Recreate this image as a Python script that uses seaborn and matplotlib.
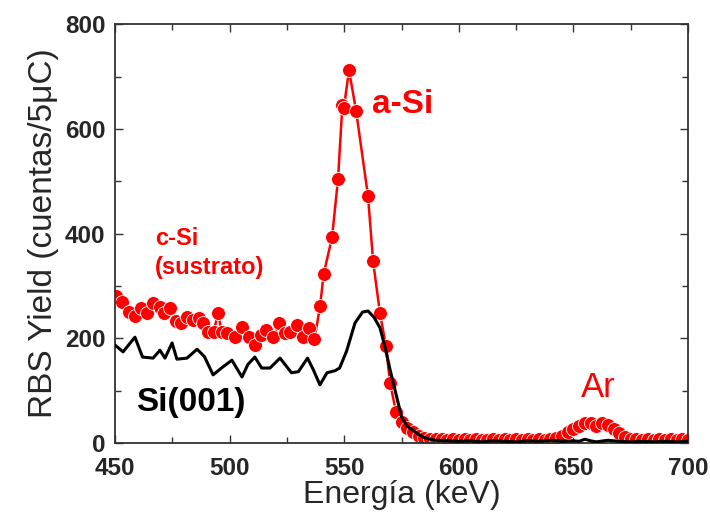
import matplotlib
matplotlib.use("Agg")
import matplotlib.pyplot as plt
import seaborn as sns
import pandas as pd
from matplotlib.ticker import MultipleLocator

sns.set_style("ticks")
plt.rcParams['font.family'] = ['Liberation Sans', 'DejaVu Sans']

# a-Si sample (red markers)
red_energy = [450.5, 453.0, 456.0, 458.5, 461.5, 464.0, 466.5, 469.5, 471.5, 474.0,
              476.5, 479.0, 481.5, 484.0, 486.5, 488.5, 490.5, 493.0, 495.0, 496.5,
              499.0, 502.5, 505.5, 508.5, 511.0, 513.5, 516.0, 519.0, 521.5, 524.0,
              526.5, 529.5, 532.0, 534.5, 537.0, 539.5, 541.0, 544.7, 547.3, 549.2,
              549.8, 552.1, 555.2, 560.4, 562.6, 565.6, 568.2, 570.0, 572.6, 575.0,
              577.5, 580.0, 582.5, 585.0, 587.5, 590.0, 592.5, 595.0, 597.5, 600.0,
              602.5, 605.0, 607.5, 610.0, 612.5, 615.0, 617.5, 620.0, 622.5, 625.0,
              627.5, 630.0, 632.5, 635.0, 637.5, 640.0, 642.5, 645.0, 647.5, 650.0,
              652.5, 655.0, 657.5, 660.0, 662.5, 665.0, 667.5, 670.0, 672.5, 675.0,
              677.5, 680.0, 682.5, 685.0, 687.5, 690.0, 692.5, 695.0, 697.5, 700.0]
red_yield = [280, 270, 250, 242, 258, 248, 268, 260, 248, 258,
             232, 229, 241, 235, 239, 230, 212, 212, 248, 212,
             210, 202, 221, 202, 188, 206, 216, 202, 229, 210,
             212, 225, 202, 219, 198, 262, 322, 393, 504, 645,
             639, 712, 634, 471, 347, 248, 185, 115, 59, 40,
             28, 20, 14, 10, 8, 7, 7, 6, 7, 6,
             7, 6, 7, 6, 6, 7, 6, 7, 6, 7,
             6, 7, 6, 7, 6, 8, 10, 14, 20, 26,
             32, 38, 38, 33, 38, 34, 26, 18, 12, 8,
             7, 6, 7, 6, 7, 6, 7, 6, 7, 6]

# Si(001) reference (black line)
black_energy = [450.0, 453.5, 458.7, 462.0, 466.6, 469.6, 471.8, 474.9, 477.0, 481.4,
                485.8, 489.0, 492.8, 497.0, 501.0, 505.4, 508.0, 511.0, 514.0, 517.6,
                522.0, 527.0, 530.0, 534.0, 536.5, 539.4, 542.5, 546.0, 548.0, 551.0,
                554.7, 558.0, 560.4, 563.0, 565.6, 568.0, 570.0, 572.5, 575.0, 577.5,
                580.0, 582.5, 585.0, 587.5, 590.0, 595.0, 600.0, 605.0, 610.0, 615.0,
                620.0, 625.0, 630.0, 635.0, 640.0, 645.0, 650.0, 652.5, 655.0, 657.5,
                660.0, 665.0, 670.0, 675.0, 680.0, 685.0, 690.0, 695.0, 700.0]
black_yield = [187, 174, 202, 164, 162, 177, 162, 191, 160, 162,
               179, 165, 130, 145, 158, 126, 150, 164, 143, 143,
               162, 134, 136, 162, 140, 111, 134, 138, 143, 175,
               229, 250, 252, 240, 220, 180, 140, 95, 50, 32,
               24, 16, 10, 7, 5, 4, 3, 4, 2, 4,
               3, 2, 4, 3, 5, 3, 4, 3, 7, 4,
               2, 5, 3, 2, 3, 2, 3, 2, 3]

x_ticks = [450, 500, 550, 600, 650, 700]
y_ticks = [0, 200, 400, 600, 800]

red_df = pd.DataFrame({"Energia": red_energy, "Yield": red_yield})
black_df = pd.DataFrame({"Energia": black_energy, "Yield": black_yield})

fig = plt.figure(figsize=(7.1, 5.15), dpi=100)
ax = fig.add_axes([0.162, 0.140, 0.807, 0.813])

sns.lineplot(data=red_df, x="Energia", y="Yield", ax=ax, color="#ff0000",
             linewidth=1.8, marker="o", markersize=10, markeredgecolor="white",
             markeredgewidth=0.6, estimator=None, sort=False, zorder=2)
sns.lineplot(data=black_df, x="Energia", y="Yield", ax=ax, color="black",
             linewidth=2.2, estimator=None, sort=False, zorder=3)

ax.set_xlim(450, 700)
ax.set_ylim(0, 800)
ax.set_xticks(x_ticks)
ax.set_yticks(y_ticks)
ax.xaxis.set_minor_locator(MultipleLocator(25))
ax.yaxis.set_minor_locator(MultipleLocator(100))
ax.tick_params(which="both", direction="in", top=True, right=True, width=1.0, color="#333333")
ax.tick_params(which="major", length=6)
ax.tick_params(which="minor", length=4)
for lab in ax.get_xticklabels() + ax.get_yticklabels():
    lab.set_fontweight("bold")
    lab.set_fontsize(17.5)
ax.tick_params(axis="x", pad=10)
ax.tick_params(axis="y", pad=7)
for s in ax.spines.values():
    s.set_linewidth(1.3)
    s.set_color("#333333")

ax.set_xlabel("Energía (keV)", fontsize=23, labelpad=0)
ax.set_ylabel("RBS Yield (cuentas/5μC)", fontsize=24, labelpad=4)

ax.text(562, 647, "a-Si", color="#ff0000", fontsize=24, fontweight="bold", va="center", ha="left")
ax.text(467.5, 390, "c-Si", color="#ff0000", fontsize=17, fontweight="bold", va="center", ha="left")
ax.text(467.5, 335, "(sustrato)", color="#ff0000", fontsize=17, fontweight="bold", va="center", ha="left")
ax.text(459, 78, "Si(001)", color="black", fontsize=24, fontweight="bold", va="center", ha="left")
ax.text(661, 105, "Ar", color="#ff0000", fontsize=25, va="center", ha="center")

fig.savefig("out.png", dpi=100)
